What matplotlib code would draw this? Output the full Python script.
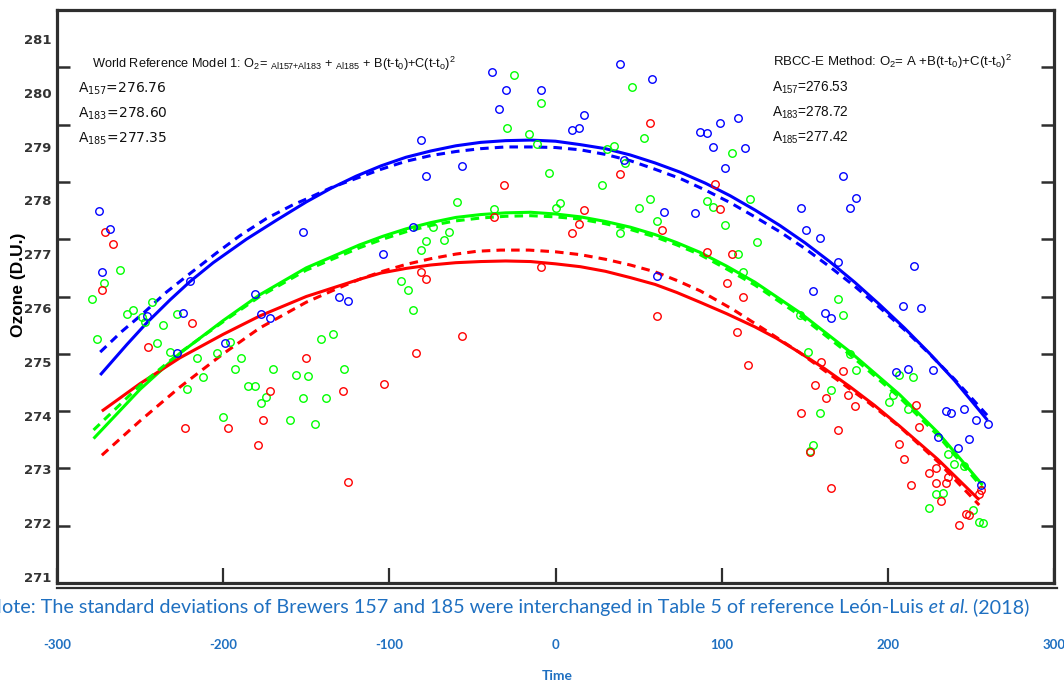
import matplotlib
matplotlib.use("Agg")
import matplotlib.pyplot as plt
from matplotlib.lines import Line2D

# ---------------- data ----------------
x_ticks = [-300, -200, -100, 0, 100, 200, 300]
y_ticks = [271, 272, 273, 274, 275, 276, 277, 278, 279, 280, 281]

# Brewer 183 (blue) observations
b_t = [-275, -268, -273, -246, -224, -220, -181, -177, -172, -152, -130, -125, -199, -228,
       -38, -30, -34, -9, 39, 58, 17, 14, 10, 87, -81, -56, -78, 41, 65, 84, -86, -104, 61,
       99, 110, 91, 95, 114, 102, 173, 181, 177, 148, 151, 159, 170, 216, 155, 162, 166,
       209, 220, 205, 212, 227, 235, 238, 246, 253, 260, 249, 242, 230, 256]
b_v = [277.49, 277.17, 276.43, 275.66, 275.71, 276.27, 276.05, 275.70, 275.63, 277.13, 275.99,
       275.93, 275.19, 275.02, 279.92, 279.60, 279.28, 279.61, 280.05, 279.79, 279.16, 278.94,
       278.90, 278.87, 278.73, 278.27, 278.10, 278.38, 277.48, 277.45, 277.21, 276.74, 276.36,
       279.03, 279.11, 278.85, 278.61, 278.59, 278.25, 278.10, 277.72, 277.55, 277.54, 277.16,
       277.02, 276.60, 276.53, 276.10, 275.71, 275.62, 275.83, 275.80, 274.68, 274.74, 274.72,
       274.00, 273.96, 274.03, 273.84, 273.78, 273.51, 273.36, 273.55, 272.71]

# Brewer 157 (red) observations
r_t = [-271, -266, -273, -219, -245, -150, -172, -128, -223, -197, -176, -179, -125,
       57, 39, -31, -37, 17, 14, 10, 64, -9, -81, -78, 61, -56, -84, -103,
       96, 99, 91, 106, 103, 113, 109, 116, 160, 173, 156, 163, 176, 180, 148, 170, 153, 166,
       207, 210, 217, 219, 214, 225, 229, 229, 235, 236, 232, 243, 247, 249, 255, 256]
r_v = [277.13, 276.91, 276.12, 275.54, 275.11, 274.93, 274.35, 274.35, 273.70, 273.71, 273.85,
       273.40, 272.76, 279.02, 278.13, 277.94, 277.38, 277.51, 277.27, 277.10, 277.16, 276.52,
       276.43, 276.30, 275.66, 275.31, 275.01, 274.48, 277.97, 277.52, 276.78, 276.74, 276.24,
       276.00, 275.38, 274.81, 274.86, 274.70, 274.46, 274.22, 274.28, 274.09, 273.97, 273.67,
       273.29, 272.65, 273.43, 273.17, 274.10, 273.72, 272.71, 272.92, 273.01, 272.74, 272.74,
       272.85, 272.43, 272.01, 272.21, 272.18, 272.56, 272.62]

# Brewer 185 (green) observations
g_t = [-262, -272, -279, -243, -258, -254, -249, -247, -228, -236, -276, -240, -232, -216,
       -204, -196, -189, -193, -212, -222, -170, -156, -149, -141, -134, -127, -185, -181,
       -152, -138, -200, -160, -145, -177, -174,
       -25, -9, 46, 53, -29, -16, -11, 35, 31, 42, -4, 28, -59, -37, 0, 3, 57, 50, 61, 39,
       -74, -64, -67, -78, -81, -93, -89, -86,
       106, 117, 91, 95, 102, 121, 110, 113, 170, 173, 147, 152, 177, 181, 166, 159, 155, 153,
       201, 203, 215, 207, 212, 236, 240, 246, 229, 233, 225, 255, 257, 251]
g_v = [276.47, 276.24, 275.95, 275.90, 275.70, 275.76, 275.64, 275.56, 275.70, 275.51, 275.25,
       275.19, 275.04, 274.93, 275.02, 275.21, 274.93, 274.73, 274.59, 274.38, 274.74, 274.63,
       274.61, 275.25, 275.35, 274.73, 274.43, 274.43, 274.22, 274.22, 273.89, 273.85, 273.78,
       274.14, 274.25,
       279.86, 279.38, 279.65, 278.77, 278.94, 278.84, 278.67, 278.63, 278.58, 278.33, 278.15,
       277.94, 277.65, 277.52, 277.54, 277.63, 277.70, 277.55, 277.32, 277.11,
       277.21, 277.13, 276.98, 276.96, 276.82, 276.27, 276.12, 275.76,
       278.51, 277.70, 277.67, 277.56, 277.24, 276.95, 276.74, 276.42, 275.95, 275.68, 275.67,
       275.03, 275.00, 274.71, 274.36, 273.96, 273.40, 273.30, 274.16, 274.28, 274.60, 274.63,
       274.04, 273.26, 273.08, 273.05, 272.56, 272.57, 272.31, 272.07, 272.04, 272.27]

# Fitted curves: World Reference Model 1 (solid) and RBCC-E method (dashed)
b_fit_t = [-274, -258, -246, -232, -220, -206, -186, -168, -150, -135, -120, -105, -90, -75,
           -60, -45, -30, -15, 0, 15, 30, 45, 60, 75, 90, 105, 120, 135, 150, 165, 180, 195,
           210, 225, 240, 260]
b_fit_v = [274.63, 275.16, 275.54, 275.94, 276.26, 276.59, 277.00, 277.33, 277.65, 277.89,
           278.10, 278.28, 278.43, 278.54, 278.63, 278.69, 278.72, 278.73, 278.71, 278.65,
           278.58, 278.47, 278.33, 278.17, 277.98, 277.76, 277.51, 277.24, 276.94, 276.61,
           276.25, 275.86, 275.45, 275.01, 274.54, 273.84]
b_rbcc_t = [-274, -261, -248, -234, -220, -204, -190, -174, -158, -150, -135, -120, -105, -90,
            -75, -60, -45, -30, -15, 0, 15, 30, 45, 60, 75, 90, 105, 120, 135, 150, 165, 180,
            195, 210, 225, 240, 260]
b_rbcc_v = [275.03, 275.39, 275.71, 276.08, 276.40, 276.76, 277.06, 277.36, 277.60, 277.70,
            277.90, 278.06, 278.22, 278.36, 278.46, 278.53, 278.58, 278.61, 278.61, 278.60,
            278.56, 278.48, 278.37, 278.22, 278.06, 277.86, 277.64, 277.39, 277.13, 276.84,
            276.52, 276.18, 275.81, 275.42, 275.00, 274.56, 273.92]

g_fit_t = [-278, -250, -226, -200, -178, -150, -118, -104, -90, -75, -60, -45, -30, -15, 0,
           15, 30, 45, 60, 73, 87, 103, 120, 147, 177, 207, 230, 257]
g_fit_v = [273.52, 274.38, 275.01, 275.58, 276.03, 276.50, 276.90, 277.05, 277.18, 277.29,
           277.38, 277.43, 277.46, 277.47, 277.44, 277.39, 277.31, 277.21, 277.08, 276.94,
           276.77, 276.53, 276.25, 275.72, 275.04, 274.29, 273.63, 272.71]
g_rbcc_t = g_fit_t
g_rbcc_v = [273.67, 274.45, 275.02, 275.56, 276.00, 276.46, 276.85, 277.00, 277.13, 277.24,
            277.32, 277.37, 277.40, 277.41, 277.39, 277.35, 277.27, 277.17, 277.04, 276.90,
            276.73, 276.48, 276.20, 275.67, 274.99, 274.24, 273.58, 272.66]

r_fit_t = [-273, -250, -226, -200, -178, -150, -118, -105, -90, -75, -60, -45, -30, -15, 0,
           15, 30, 45, 60, 73, 87, 103, 120, 133, 147, 162, 177, 192, 207, 230, 255]
r_fit_v = [274.00, 274.48, 274.93, 275.34, 275.66, 276.00, 276.30, 276.41, 276.49, 276.55,
           276.59, 276.61, 276.62, 276.61, 276.57, 276.52, 276.44, 276.33, 276.21, 276.07,
           275.90, 275.70, 275.47, 275.27, 275.02, 274.74, 274.43, 274.10, 273.74, 273.16,
           272.45]
r_rbcc_t = [-273, -250, -226, -200, -178, -150, -132, -118, -104, -90, -75, -60, -47, -33,
            -16, 0, 15, 30, 45, 60, 73, 87, 107, 127, 147, 167, 187, 207, 230, 255]
r_rbcc_v = [273.23, 273.83, 274.42, 275.00, 275.45, 275.90, 276.13, 276.30, 276.44, 276.56,
            276.66, 276.74, 276.79, 276.81, 276.81, 276.78, 276.73, 276.65, 276.55, 276.43,
            276.28, 276.10, 275.77, 275.40, 275.02, 274.60, 274.18, 273.73, 273.12, 272.36]

wrm_A = ["276.76", "278.60", "277.35"]
rbcc_A = ["276.53", "278.72", "277.42"]
brewers = ["157", "183", "185"]

# ---------------- style ----------------
plt.rcParams['mathtext.fontset'] = 'custom'
plt.rcParams['mathtext.rm'] = 'Liberation Sans'
plt.rcParams['mathtext.it'] = 'Liberation Sans:italic'
plt.rcParams['mathtext.bf'] = 'Liberation Sans:bold'

BLUE, RED, GREEN = '#0000ff', '#ff0000', '#00ff00'
NOTE_BLUE = '#1f70c1'
FRAME = '#2e2e2e'

W, H = 1064, 686
fig = plt.figure(figsize=(W / 100, H / 100), dpi=100)


def fx(px):
    return px / W


def fy(py):
    return 1 - py / H


L, R, T, B = 57, 1054, 10, 583
rect = [fx(L), fy(B), (R - L) / W, (B - T) / H]

# axis holding the (offset) y tick labels, underneath
ax2 = fig.add_axes(rect, frameon=False)
ax2.set_ylim(270.888, 281.539)
ax2.set_yticks(y_ticks)
ax2.set_yticklabels([str(v) for v in y_ticks], fontfamily='DejaVu Sans',
                    fontweight='bold', fontsize=9.5, color='#333333')
ax2.tick_params(axis='y', length=0, pad=4)
ax2.set_xticks([])
ax2.patch.set_visible(False)

ax = fig.add_axes(rect)
ax.patch.set_visible(False)
ax.set_xlim(-300, 300)
ax.set_ylim(271, 281)

for s in ax.spines.values():
    s.set_linewidth(2.3)
    s.set_color(FRAME)

ax.set_yticks(y_ticks)
ax.tick_params(axis='y', which='both', direction='in', length=9.5, width=1.8,
               color=FRAME, left=True, right=True, labelleft=False, labelright=False)
ax.set_xticks(x_ticks)
ax.set_xticklabels([str(v) for v in x_ticks], fontfamily='Lato', fontweight='bold',
                   fontsize=9.5, color=NOTE_BLUE)
ax.tick_params(axis='x', direction='in', length=11, width=1.6, color=FRAME, pad=40,
               top=False, bottom=True)

# fitted curves
dash = (0, (2.8, 2.0))
for tt, vv, c in [(b_fit_t, b_fit_v, BLUE), (g_fit_t, g_fit_v, GREEN), (r_fit_t, r_fit_v, RED)]:
    ax.plot(tt, vv, color=c, lw=2.2, solid_capstyle='butt', solid_joinstyle='round', zorder=3)
for tt, vv, c in [(b_rbcc_t, b_rbcc_v, BLUE), (g_rbcc_t, g_rbcc_v, GREEN), (r_rbcc_t, r_rbcc_v, RED)]:
    ax.plot(tt, vv, color=c, lw=2.2, ls=dash, dash_capstyle='butt', zorder=3)

# observations
for tt, vv, c in [(g_t, g_v, GREEN), (r_t, r_v, RED), (b_t, b_v, BLUE)]:
    ax.plot(tt, vv, ls='none', marker='o', ms=5.4, mfc='none', mec=c, mew=1.0, zorder=4)

# annotations
left_title = (r"World Reference Model 1: O$_\mathregular{2}$= $_\mathregular{Al157{+}Al183}$ + "
              r"$_\mathregular{Al185}$ + B(t-t$_\mathregular{0}$)+C(t-t$_\mathregular{o}$)$^\mathregular{2}$")
fig.text(fx(92), fy(68), left_title, fontfamily='Liberation Sans', fontsize=9.2,
         ha='left', va='baseline', color='#111111')
right_title = (r"RBCC-E Method: O$_\mathregular{2}$= A +B(t-t$_\mathregular{0}$)"
               r"+C(t-t$_\mathregular{o}$)$^\mathregular{2}$")
fig.text(fx(773), fy(66), right_title, fontfamily='Liberation Sans', fontsize=9.5,
         ha='left', va='baseline', color='#111111')

rows_y = [93, 118, 143]
for i in range(3):
    fig.text(fx(78), fy(rows_y[i]), r"A$_\mathregular{%s}$=%s" % (brewers[i], wrm_A[i]),
             fontfamily='DejaVu Sans', fontsize=10, ha='left', va='baseline', color='#111111')
    fig.text(fx(772), fy(rows_y[i] - 1), r"A$_\mathregular{%s}$=%s" % (brewers[i], rbcc_A[i]),
             fontfamily='Liberation Sans', fontsize=9.8, ha='left', va='baseline', color='#111111')

# axis titles
fig.text(fx(19), fy(285), "Ozone (D.U.)", rotation=90, ha='center', va='center',
         fontfamily='Liberation Sans', fontweight='bold', fontsize=12.5, color='black')
fig.text(fx(557), fy(676), "Time", ha='center', va='center', fontfamily='Lato',
         fontweight='bold', fontsize=10, color=NOTE_BLUE)

# double bottom rule
fig.add_artist(Line2D([fx(57), fx(1057)], [fy(587.5), fy(587.5)], color=FRAME, lw=1.6))

# note
NOTE_SIZE = 14.2
n1 = fig.text(fx(-13), fy(613), "Note: The standard deviations of Brewers 157 and 185 were "
              "interchanged in Table 5 of reference León-Luis", fontfamily='Lato',
              fontsize=NOTE_SIZE, color=NOTE_BLUE, ha='left', va='baseline')
n2 = fig.text(0, 0, " et al.", fontfamily='Lato', fontstyle='italic', fontsize=NOTE_SIZE,
              color=NOTE_BLUE, ha='left', va='baseline')
n3 = fig.text(0, 0, " (2018)", fontfamily='Lato', fontsize=NOTE_SIZE, color=NOTE_BLUE,
              ha='left', va='baseline')
fig.canvas.draw()
r = fig.canvas.get_renderer()
e1 = n1.get_window_extent(r)
n2.set_position((e1.x1 / fig.bbox.width, fy(613)))
fig.canvas.draw()
e2 = n2.get_window_extent(r)
n3.set_position((e2.x1 / fig.bbox.width, fy(613)))

fig.savefig("out.png", dpi=100)
